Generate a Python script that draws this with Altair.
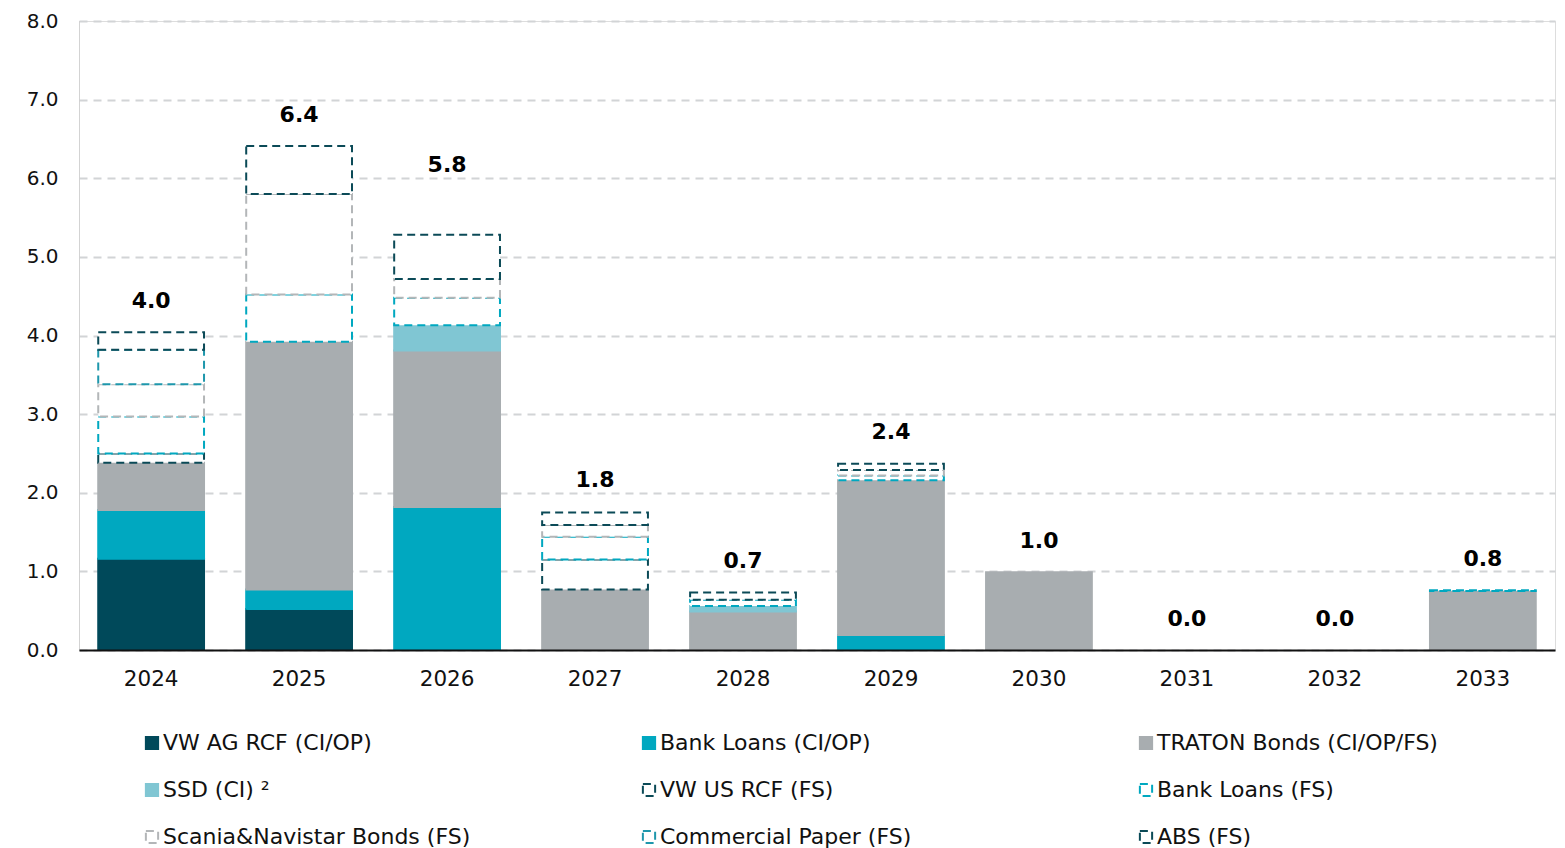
import altair as alt
import pandas as pd

years = ["2024", "2025", "2026", "2027", "2028", "2029", "2030", "2031", "2032", "2033"]

series = [
    "VW AG RCF (CI/OP)",
    "Bank Loans (CI/OP)",
    "TRATON Bonds (CI/OP/FS)",
    "SSD (CI) ²",
    "VW US RCF (FS)",
    "Bank Loans (FS)",
    "Scania&Navistar Bonds (FS)",
    "Commercial Paper (FS)",
    "ABS (FS)",
]

vw_ag_rcf = [1.16, 0.52, 0.0, 0.0, 0.0, 0.0, 0.0, 0.0, 0.0, 0.0]
bank_loans_ci = [0.62, 0.25, 1.82, 0.0, 0.0, 0.19, 0.0, 0.0, 0.0, 0.0]
traton_bonds = [0.60, 3.15, 1.99, 0.77, 0.49, 1.97, 0.99, 0.0, 0.0, 0.75]
ssd = [0.0, 0.0, 0.32, 0.0, 0.07, 0.0, 0.0, 0.0, 0.0, 0.0]
vw_us_rcf = [0.12, 0.0, 0.0, 0.38, 0.0, 0.0, 0.0, 0.0, 0.0, 0.0]
bank_loans_fs = [0.47, 0.60, 0.35, 0.29, 0.08, 0.06, 0.0, 0.0, 0.0, 0.01]
scania_navistar = [0.41, 1.28, 0.24, 0.15, 0.0, 0.07, 0.0, 0.0, 0.0, 0.0]
commercial_paper = [0.44, 0.0, 0.0, 0.0, 0.0, 0.0, 0.0, 0.0, 0.0, 0.0]
abs_fs = [0.22, 0.61, 0.56, 0.16, 0.09, 0.08, 0.0, 0.0, 0.0, 0.0]

# printed totals and the height at which each total is shown
totals = [4.0, 6.4, 5.8, 1.8, 0.7, 2.4, 1.0, 0.0, 0.0, 0.8]
total_pos = [4.04, 6.41, 5.78, 1.77, 0.74, 2.38, 0.99, 0.0, 0.0, 0.76]

values = [vw_ag_rcf, bank_loans_ci, traton_bonds, ssd, vw_us_rcf,
          bank_loans_fs, scania_navistar, commercial_paper, abs_fs]

fill_colors = ["#00495A", "#00A8C0", "#A8ADB0", "#80C6D3",
               "#FFFFFF", "#FFFFFF", "#FFFFFF", "#FFFFFF", "#FFFFFF"]
stroke_colors = ["#00495A", "#00A8C0", "#A8ADB0", "#80C6D3",
                 "#0B4A57", "#00A8C0", "#B3B6B8", "#1E97AC", "#0B4A57"]
dashes = [[1, 0], [1, 0], [1, 0], [1, 0],
          [8, 5], [8, 5], [8, 5], [8, 5], [8, 5]]

rows = []
for si, (name, vals) in enumerate(zip(series, values)):
    for yi, (yr, v) in enumerate(zip(years, vals)):
        if v > 0:
            rows.append({"year": yr, "series": name, "idx": si, "value": v})
df = pd.DataFrame(rows)

lab = pd.DataFrame({"year": years, "total": totals, "pos": total_pos})

FONT = "DejaVu Sans"

legend = alt.Legend(
    title=None,
    orient="none",
    legendX=62,
    legendY=711,
    direction="horizontal",
    columns=3,
    gridAlign="all",
    columnPadding=167,
    rowPadding=25,
    symbolType="square",
    symbolSize=150,
    symbolStrokeWidth=2,
    labelFont=FONT,
    labelFontSize=22,
    labelColor="#111111",
    labelOffset=0,
    labelLimit=600,
)

x_enc = alt.X(
    "year:N",
    sort=years,
    title=None,
    scale=alt.Scale(paddingInner=0.285, paddingOuter=0.13),
    axis=alt.Axis(
        labelAngle=0,
        labelFont=FONT,
        labelFontSize=21.5,
        labelColor="#111111",
        labelPadding=18,
        ticks=False,
        domain=True,
        domainColor="#111111",
        domainWidth=2,
        grid=False,
        zindex=2,
    ),
)

bars = alt.Chart(df).mark_bar(strokeWidth=2).encode(
    x=x_enc,
    y=alt.Y(
        "value:Q",
        stack="zero",
        title=None,
        scale=alt.Scale(domain=[0, 8], nice=False),
        axis=alt.Axis(
            values=[0, 1, 2, 3, 4, 5, 6, 7, 8],
            format=".1f",
            labelFont=FONT,
            labelFontSize=20,
            labelColor="#111111",
            labelPadding=21,
            ticks=False,
            domain=True,
            domainColor="#C8C8C8",
            domainDash=[1, 1],
            domainWidth=1,
            grid=True,
            gridColor="#D2D4D6",
            gridDash=[8, 6],
            gridWidth=2,
        ),
    ),
    fill=alt.Fill("series:N", scale=alt.Scale(domain=series, range=fill_colors), legend=legend),
    stroke=alt.Stroke("series:N", scale=alt.Scale(domain=series, range=stroke_colors), legend=legend),
    strokeDash=alt.StrokeDash("series:N", scale=alt.Scale(domain=series, range=dashes), legend=legend),
    order=alt.Order("idx:Q", sort="ascending"),
)

labels = alt.Chart(lab).mark_text(
    font=FONT, fontSize=22, fontWeight="bold", color="#000000",
    baseline="middle", dy=-31,
).encode(
    x=alt.X("year:N", sort=years),
    y=alt.Y("pos:Q"),
    text=alt.Text("total:Q", format=".1f"),
)

chart = alt.layer(bars, labels).properties(
    width=1476,
    height=629,
    padding={"left": 71, "top": 13, "right": 2, "bottom": 198},
    autosize=alt.AutoSizeParams(type="none"),
).configure_view(stroke=None).configure(background="white")

chart.save("out.html", embed_options={"renderer": "svg", "actions": False})
